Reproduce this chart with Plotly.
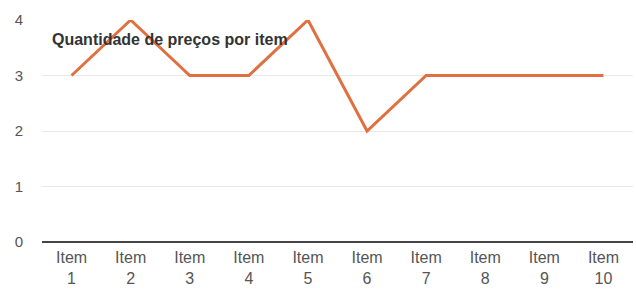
import plotly.graph_objects as go

categories = ["Item<br>1", "Item<br>2", "Item<br>3", "Item<br>4", "Item<br>5",
              "Item<br>6", "Item<br>7", "Item<br>8", "Item<br>9", "Item<br>10"]
values = [3, 4, 3, 3, 4, 2, 3, 3, 3, 3]
title_text = "Quantidade de preços por item"

fig = go.Figure()
fig.add_trace(go.Scatter(
    x=categories, y=values, mode="lines",
    line=dict(color="#e0703f", width=3),
    showlegend=False,
))

fig.update_layout(
    width=636, height=297,
    margin=dict(l=42, r=3, t=20, b=55),
    paper_bgcolor="white", plot_bgcolor="white",
    font=dict(family="Liberation Sans, Arial, sans-serif", size=15, color="#555555"),
    xaxis=dict(
        type="category", range=[-0.5, 9.5], automargin=False,
        showgrid=False, showline=False, zeroline=False,
        ticks="", ticklabelstandoff=4,
        tickfont=dict(size=16, color="#555555"),
    ),
    yaxis=dict(
        range=[0, 4], tickvals=[0, 1, 2, 3, 4], automargin=False,
        showgrid=True, gridcolor="#e8e8e8", gridwidth=1,
        zeroline=True, zerolinecolor="#444444", zerolinewidth=2,
        showline=False, ticks="", ticklabelstandoff=18,
        tickfont=dict(size=15, color="#555555"),
    ),
    annotations=[dict(
        text="<b>" + title_text + "</b>",
        xref="paper", yref="paper", x=0.014, y=0.91,
        xanchor="left", yanchor="middle", showarrow=False,
        font=dict(family="Liberation Sans, Arial, sans-serif", size=16, color="#333333"),
    )],
)

fig.write_html("out.html", config={"displayModeBar": False},
               post_script="document.body.style.margin='0';document.body.style.overflow='hidden';")
